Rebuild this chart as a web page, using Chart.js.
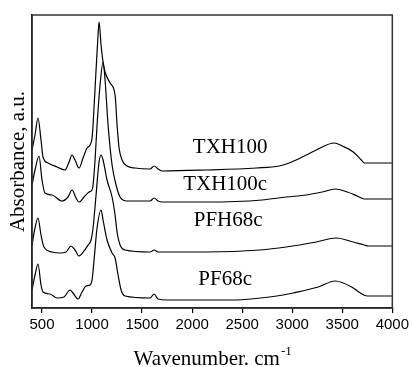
<!DOCTYPE html>
<html>
<head>
<meta charset="utf-8">
<script src="https://cdn.jsdelivr.net/npm/chart.js@4"></script>
<style>
  html, body { margin: 0; padding: 0; background: #fff; }
  #wrap { width: 412px; height: 367px; }
</style>
</head>
<body>
<div id="wrap"><canvas id="ftir" width="412" height="367"></canvas></div>
<script>
// FTIR spectra, offset vertically (absorbance in a.u.)
const txh100Wn  = [400, 430, 460, 490, 510, 560, 650, 730, 770, 800, 830, 870, 910, 950, 980, 1000, 1010, 1040, 1060, 1070, 1090, 1110, 1130, 1180, 1230, 1250, 1270, 1300, 1350, 1430, 1580, 1620, 1660, 1700, 2140, 2640, 2870, 2970, 3140, 3240, 3420, 3500, 3610, 3690, 3720, 4000];
const txh100Abs = [1.58, 1.73, 1.90, 1.68, 1.51, 1.45, 1.41, 1.38, 1.46, 1.53, 1.48, 1.40, 1.50, 1.60, 1.63, 1.70, 1.83, 2.38, 2.73, 2.86, 2.63, 2.46, 2.36, 2.25, 2.13, 1.83, 1.60, 1.48, 1.42, 1.40, 1.39, 1.42, 1.39, 1.37, 1.38, 1.40, 1.42, 1.45, 1.53, 1.58, 1.65, 1.62, 1.56, 1.48, 1.45, 1.45];

const txh100cWn  = [400, 430, 470, 500, 530, 600, 700, 760, 800, 840, 870, 920, 970, 1000, 1010, 1030, 1050, 1080, 1110, 1130, 1160, 1200, 1240, 1280, 1350, 1580, 1620, 1660, 1700, 2140, 2700, 2940, 3140, 3300, 3430, 3550, 3650, 3720, 4000];
const txh100cAbs = [1.23, 1.38, 1.52, 1.28, 1.15, 1.13, 1.07, 1.11, 1.18, 1.10, 1.06, 1.11, 1.16, 1.18, 1.23, 1.48, 1.83, 2.23, 2.46, 2.28, 1.83, 1.43, 1.23, 1.11, 1.07, 1.07, 1.10, 1.07, 1.06, 1.06, 1.08, 1.11, 1.13, 1.16, 1.19, 1.16, 1.12, 1.09, 1.09];

const pfh68cWn  = [400, 430, 460, 490, 520, 600, 680, 740, 790, 830, 870, 920, 960, 990, 1010, 1040, 1070, 1090, 1110, 1150, 1200, 1230, 1250, 1280, 1330, 1580, 1620, 1660, 2140, 2680, 2940, 3240, 3440, 3610, 3720, 3760, 4000];
const pfh68cAbs = [0.63, 0.80, 0.90, 0.73, 0.61, 0.56, 0.55, 0.56, 0.62, 0.58, 0.52, 0.57, 0.63, 0.68, 0.80, 1.13, 1.46, 1.53, 1.48, 1.28, 1.11, 0.93, 0.76, 0.63, 0.58, 0.56, 0.58, 0.56, 0.56, 0.58, 0.61, 0.66, 0.70, 0.66, 0.63, 0.62, 0.62];

const pf68cWn  = [400, 430, 460, 490, 510, 580, 650, 720, 780, 810, 860, 900, 940, 980, 1000, 1020, 1050, 1090, 1110, 1150, 1200, 1230, 1260, 1290, 1330, 1580, 1620, 1660, 1750, 2400, 2910, 3010, 3260, 3430, 3610, 3680, 3750, 4000];
const pf68cAbs = [0.18, 0.33, 0.44, 0.23, 0.16, 0.14, 0.10, 0.11, 0.18, 0.15, 0.09, 0.16, 0.22, 0.23, 0.28, 0.48, 0.80, 0.98, 0.88, 0.68, 0.55, 0.50, 0.33, 0.18, 0.12, 0.10, 0.14, 0.09, 0.08, 0.08, 0.13, 0.15, 0.21, 0.27, 0.20, 0.15, 0.12, 0.12];

// curve labels and where they sit (wavenumber, absorbance)
const seriesNames = ['TXH100', 'TXH100c', 'PFH68c', 'PF68c'];
const labelWn  = [2380, 2330, 2360, 2330];
const labelAbs = [1.55, 1.18, 0.82, 0.23];

const xTicks = [500, 1000, 1500, 2000, 2500, 3000, 3500, 4000];

const toPoints = (wn, abs) => wn.map((w, i) => ({ x: w, y: abs[i] }));

const serif = '"Liberation Serif", "Times New Roman", serif';

// curve names + frame + x title with superscript
const annotate = {
  id: 'annotate',
  afterDatasetsDraw(chart) {
    const { ctx, chartArea: a, scales } = chart;
    ctx.save();
    ctx.fillStyle = '#000';
    ctx.font = '21px ' + serif;
    ctx.textAlign = 'center';
    ctx.textBaseline = 'alphabetic';
    seriesNames.forEach((name, i) => {
      ctx.fillText(name, scales.x.getPixelForValue(labelWn[i]), scales.y.getPixelForValue(labelAbs[i]));
    });

    ctx.strokeStyle = '#333';
    ctx.lineWidth = 1.5;
    ctx.strokeRect(a.left, a.top, a.right - a.left, a.bottom - a.top);

    // x axis title
    const main = 'Wavenumber. cm';
    const sup = '-1';
    ctx.font = '21px ' + serif;
    const w1 = ctx.measureText(main).width;
    ctx.font = '13px ' + serif;
    const w2 = ctx.measureText(sup).width;
    const x0 = (a.left + a.right) / 2 - (w1 + w2) / 2;
    ctx.textAlign = 'left';
    ctx.font = '21px ' + serif;
    ctx.fillText(main, x0, 365);
    ctx.font = '13px ' + serif;
    ctx.fillText(sup, x0 + w1 + 1, 355);
    ctx.restore();
  }
};

const line = (label, wn, abs) => ({
  label,
  data: toPoints(wn, abs),
  borderColor: '#000',
  borderWidth: 1.2,
  pointRadius: 0,
  fill: false,
  cubicInterpolationMode: 'monotone'
});

new Chart(document.getElementById('ftir').getContext('2d'), {
  type: 'line',
  data: {
    datasets: [
      line('TXH100', txh100Wn, txh100Abs),
      line('TXH100c', txh100cWn, txh100cAbs),
      line('PFH68c', pfh68cWn, pfh68cAbs),
      line('PF68c', pf68cWn, pf68cAbs)
    ]
  },
  options: {
    responsive: false,
    animation: false,
    layout: { padding: { top: 15, right: 19, left: 0, bottom: 0 } },
    plugins: { legend: { display: false }, tooltip: { enabled: false } },
    scales: {
      x: {
        type: 'linear',
        min: 400,
        max: 4000,
        afterBuildTicks: (s) => { s.ticks = xTicks.map(v => ({ value: v })); },
        afterFit: (s) => { s.height = 59; },
        border: { color: '#000', width: 1.5 },
        grid: { drawOnChartArea: false, drawTicks: true, tickLength: 5, color: '#000', lineWidth: 1.2 },
        ticks: {
          autoSkip: false,
          maxRotation: 0,
          padding: 3,
          color: '#000',
          callback: (v) => String(v),
          font: { family: '"Liberation Sans", Arial, sans-serif', size: 15 }
        },
        title: { display: false }
      },
      y: {
        min: 0,
        max: 2.93,
        afterFit: (s) => { s.width = 32; },
        border: { color: '#000', width: 1.5 },
        grid: { display: false },
        ticks: { display: false },
        title: {
          display: true,
          text: 'Absorbance, a.u.',
          color: '#000',
          padding: { top: 6, bottom: 0 },
          font: { family: serif, size: 21 }
        }
      }
    }
  },
  plugins: [annotate]
});
</script>
</body>
</html>
